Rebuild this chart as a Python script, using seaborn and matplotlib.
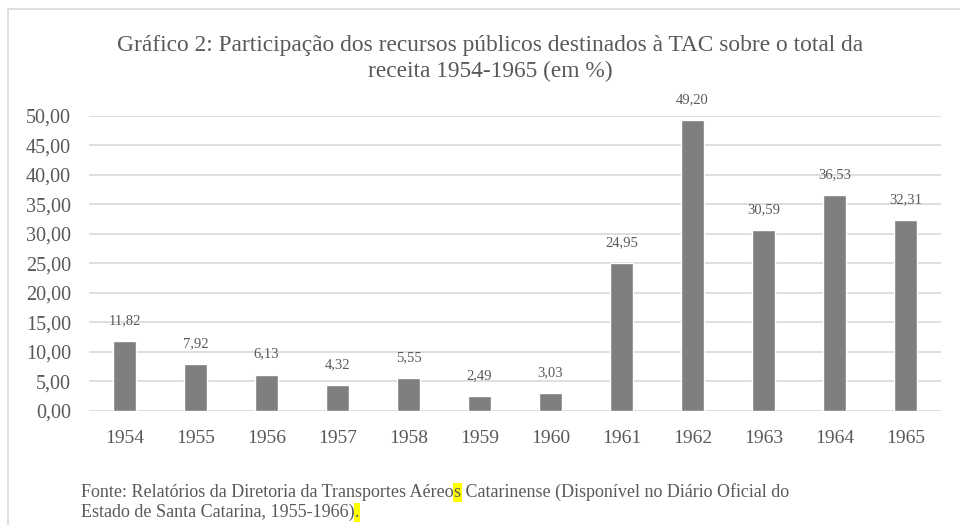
import matplotlib
matplotlib.use("Agg")
import matplotlib.pyplot as plt
import seaborn as sns
import pandas as pd
from matplotlib.lines import Line2D

years = ["1954", "1955", "1956", "1957", "1958", "1959", "1960",
         "1961", "1962", "1963", "1964", "1965"]
values = [11.82, 7.92, 6.13, 4.32, 5.55, 2.49, 3.03,
          24.95, 49.20, 30.59, 36.53, 32.31]
yticks = [0, 5, 10, 15, 20, 25, 30, 35, 40, 45, 50]

title = ("Gráfico 2: Participação dos recursos públicos destinados à TAC sobre o total da\n"
         "receita 1954-1965 (em %)")
foot1a = "Fonte: Relatórios da Diretoria da Transportes Aéreo"
foot1b = "s"
foot1c = " Catarinense (Disponível no Diário Oficial do"
foot2a = "Estado de Santa Catarina, 1955-1966)"
foot2b = "."

sns.set_theme(style="white")
plt.rcParams['font.family'] = ['Liberation Serif', 'DejaVu Serif']

TXT = "#595959"
GRID = "#d9d9d9"

df = pd.DataFrame({"ano": years, "valor": values})

fig = plt.figure(figsize=(9.6, 5.25), dpi=100)
W, H = 960, 525
ax = fig.add_axes([89 / W, 1 - 410.7 / H, (941 - 89) / W, (410.7 - 115.7) / H])

sns.barplot(data=df, x="ano", y="valor", color="#7f7f7f", saturation=1,
            width=0.315, ax=ax, zorder=3)
ax.set_xlim(-0.5, len(years) - 0.5)
ax.set_ylim(0, 50)
ax.set_yticks(yticks)
ax.set_yticklabels([f"{v:.2f}".replace(".", ",") for v in yticks])
ax.set_xlabel("")
ax.set_ylabel("")
for s in ax.spines.values():
    s.set_visible(False)
ax.yaxis.grid(True, color=GRID, linewidth=1.2, zorder=0)
ax.set_axisbelow(True)
ax.tick_params(axis="y", length=0, pad=13, labelsize=14.5, labelcolor=TXT)
ax.tick_params(axis="x", length=0, pad=14, labelsize=14, labelcolor=TXT)

for i, v in enumerate(values):
    ax.annotate(f"{v:.2f}".replace(".", ","), (i, v), xytext=(0, 10),
                textcoords="offset points", ha="center", va="bottom",
                fontsize=10.5, color=TXT)

fig.text(490 / W, 1 - 59 / H, title, ha="center", va="center",
         fontsize=16.8, color=TXT, linespacing=1.3)

# frame lines (top and left)
fig.add_artist(Line2D([8 / W, 1], [1 - 9 / H, 1 - 9 / H], color=GRID, lw=1.2,
                      transform=fig.transFigure))
fig.add_artist(Line2D([8 / W, 8 / W], [0, 1 - 9 / H], color=GRID, lw=1.2,
                      transform=fig.transFigure))

# footnote with highlighted characters
fig.canvas.draw()
renderer = fig.canvas.get_renderer()
fs = 13


def put_seq(parts, x0, y0):
    x = x0
    for txt, hl in parts:
        t = fig.text(x / W, 1 - y0 / H, txt, ha="left", va="baseline",
                     fontsize=fs, color=TXT)
        if hl:
            t.set_bbox(dict(facecolor="#ffff00", edgecolor="none", pad=0.6))
        bb = t.get_window_extent(renderer)
        x += bb.width * 100 / fig.dpi


put_seq([(foot1a, False), (foot1b, True), (foot1c, False)], 81, 497)
put_seq([(foot2a, False), (foot2b, True)], 81, 517)

fig.savefig("out.png", dpi=100)
